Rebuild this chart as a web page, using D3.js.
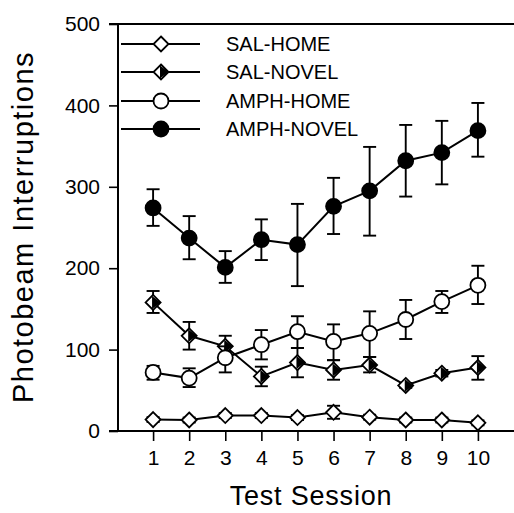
<!DOCTYPE html>
<html lang="en">
<head>
<meta charset="utf-8" />
<title>Photobeam Interruptions</title>
<script src="https://d3js.org/d3.v7.min.js"></script>
<style>
  body { margin: 0; background: #fff; }
  svg { display: block; }
</style>
</head>
<body>
<div id="root"></div>
<script>
// sessions on the x axis
const sessions = [1, 2, 3, 4, 5, 6, 7, 8, 9, 10]
const yTicks = [0, 100, 200, 300, 400, 500]

// means
const salHome = [14, 13.5, 19, 19, 16.5, 23, 17, 13.5, 13.5, 10]
const salNovel = [158, 117, 104, 67, 84, 75, 81, 56, 71, 78]
const amphHome = [72, 65, 90, 106, 122, 110, 120, 137, 159, 179]
const amphNovel = [274, 237, 201, 235, 229, 276, 295, 332, 342, 369]

// +/- error (upper, lower)
const salHomeHi = [3, 3, 3, 3, 3, 8, 3, 3, 3, 3]
const salHomeLo = [3, 3, 3, 3, 3, 8, 3, 3, 3, 3]
const salNovelHi = [14, 17, 13, 12, 18, 12, 10, 3, 4, 14]
const salNovelLo = [13, 17, 12, 12, 18, 12, 9, 3, 4, 15]
const amphHomeHi = [8, 12, 14, 18, 19, 21, 27, 24, 13, 24]
const amphHomeLo = [9, 11, 18, 18, 20, 23, 29, 24, 14, 23]
const amphNovelHi = [23, 27, 20, 25, 50, 35, 54, 44, 39, 34]
const amphNovelLo = [22, 26, 19, 25, 51, 34, 55, 44, 39, 32]

const seriesNames = ["SAL-HOME", "SAL-NOVEL", "AMPH-HOME", "AMPH-NOVEL"]
const seriesMarkers = ["diamondOpen", "diamondHalf", "circleOpen", "circleFilled"]

const series = [
  {name: seriesNames[0], marker: seriesMarkers[0], values: salHome, hi: salHomeHi, lo: salHomeLo},
  {name: seriesNames[1], marker: seriesMarkers[1], values: salNovel, hi: salNovelHi, lo: salNovelLo},
  {name: seriesNames[2], marker: seriesMarkers[2], values: amphHome, hi: amphHomeHi, lo: amphHomeLo},
  {name: seriesNames[3], marker: seriesMarkers[3], values: amphNovel, hi: amphNovelHi, lo: amphNovelLo}
]

const width = 514
const height = 513
const font = "'Liberation Sans', Arial, sans-serif"

const x = d3.scaleLinear().domain([0, 11]).range([117, 514])
const y = d3.scaleLinear().domain([0, 500]).range([431, 24])

const svg = d3.create("svg")
    .attr("width", width)
    .attr("height", height)
    .attr("font-family", font)

// frame: left axis, top and bottom rules
const axisG = svg.append("g").attr("stroke", "#000").attr("stroke-width", 2)
axisG.append("line").attr("x1", 118).attr("x2", 118).attr("y1", y(500)).attr("y2", y(0))
axisG.append("line").attr("x1", 109).attr("x2", width).attr("y1", y(500)).attr("y2", y(500))
axisG.append("line").attr("x1", 109).attr("x2", width).attr("y1", y(0)).attr("y2", y(0))

const yAxis = d3.axisLeft(y).tickValues(yTicks).tickSize(9).tickPadding(9).tickFormat(d3.format("d"))
svg.append("g")
    .attr("transform", "translate(118,0)")
    .call(yAxis)
    .call(g => g.select(".domain").remove())
    .call(g => g.selectAll("line").attr("stroke", "#000").attr("stroke-width", 1.6))
    .call(g => g.selectAll("text").attr("font-size", 21).attr("font-family", font).attr("fill", "#000"))

const xAxis = d3.axisBottom(x).tickValues(sessions).tickSize(10).tickPadding(9)
svg.append("g")
    .attr("transform", `translate(0,${y(0)})`)
    .call(xAxis)
    .call(g => g.select(".domain").remove())
    .call(g => g.selectAll("line").attr("stroke", "#000").attr("stroke-width", 1.6))
    .call(g => g.selectAll("text").attr("font-size", 21).attr("font-family", font).attr("fill", "#000"))

// axis titles
svg.append("text")
    .attr("x", 311)
    .attr("y", 505)
    .attr("text-anchor", "middle")
    .attr("font-size", 27)
    .attr("letter-spacing", 0.8)
    .text("Test Session")

svg.append("text")
    .attr("transform", "translate(33,227) rotate(-90)")
    .attr("text-anchor", "middle")
    .attr("font-size", 29)
    .attr("letter-spacing", 1.5)
    .text("Photobeam Interruptions")

function drawMarker(g, kind) {
  const r = 7.5
  const d = 7.5
  if (kind === "circleOpen" || kind === "circleFilled") {
    g.append("circle")
        .attr("r", r)
        .attr("fill", kind === "circleFilled" ? "#000" : "#fff")
        .attr("stroke", "#000")
        .attr("stroke-width", 1.8)
  } else {
    g.append("path")
        .attr("d", `M0,${-d}L${d},0L0,${d}L${-d},0Z`)
        .attr("fill", "#fff")
        .attr("stroke", "#000")
        .attr("stroke-width", 1.8)
    if (kind === "diamondHalf") {
      g.append("path")
          .attr("d", `M-1,${-d + 1}L${d},0L-1,${d - 1}Z`)
          .attr("fill", "#000")
    }
  }
}

const line = d3.line()
    .x((d, i) => x(sessions[i]))
    .y(d => y(d))

// series: error bars, line, markers
series.forEach(s => {
  const g = svg.append("g")
  const eb = g.append("g").attr("stroke", "#000").attr("stroke-width", 1.9)
  s.values.forEach((v, i) => {
    const cx = x(sessions[i])
    const top = y(v + s.hi[i])
    const bot = y(v - s.lo[i])
    eb.append("line").attr("x1", cx).attr("x2", cx).attr("y1", top).attr("y2", bot)
    eb.append("line").attr("x1", cx - 6.5).attr("x2", cx + 6.5).attr("y1", top).attr("y2", top)
    eb.append("line").attr("x1", cx - 6.5).attr("x2", cx + 6.5).attr("y1", bot).attr("y2", bot)
  })
  g.append("path")
      .datum(s.values)
      .attr("fill", "none")
      .attr("stroke", "#000")
      .attr("stroke-width", 2)
      .attr("d", line)
  s.values.forEach((v, i) => {
    const m = g.append("g").attr("transform", `translate(${x(sessions[i])},${y(v)})`)
    drawMarker(m, s.marker)
  })
})

// legend
const legendRows = [44, 72, 101, 129]
series.forEach((s, i) => {
  const lg = svg.append("g").attr("transform", `translate(0,${legendRows[i]})`)
  lg.append("line")
      .attr("x1", 121).attr("x2", 200)
      .attr("stroke", "#000").attr("stroke-width", 1.8)
  const m = lg.append("g").attr("transform", "translate(161,0)")
  drawMarker(m, s.marker)
  lg.append("text")
      .attr("x", 226)
      .attr("dy", "0.36em")
      .attr("font-size", 20)
      .text(s.name)
})

document.getElementById("root").appendChild(svg.node())
</script>
</body>
</html>
